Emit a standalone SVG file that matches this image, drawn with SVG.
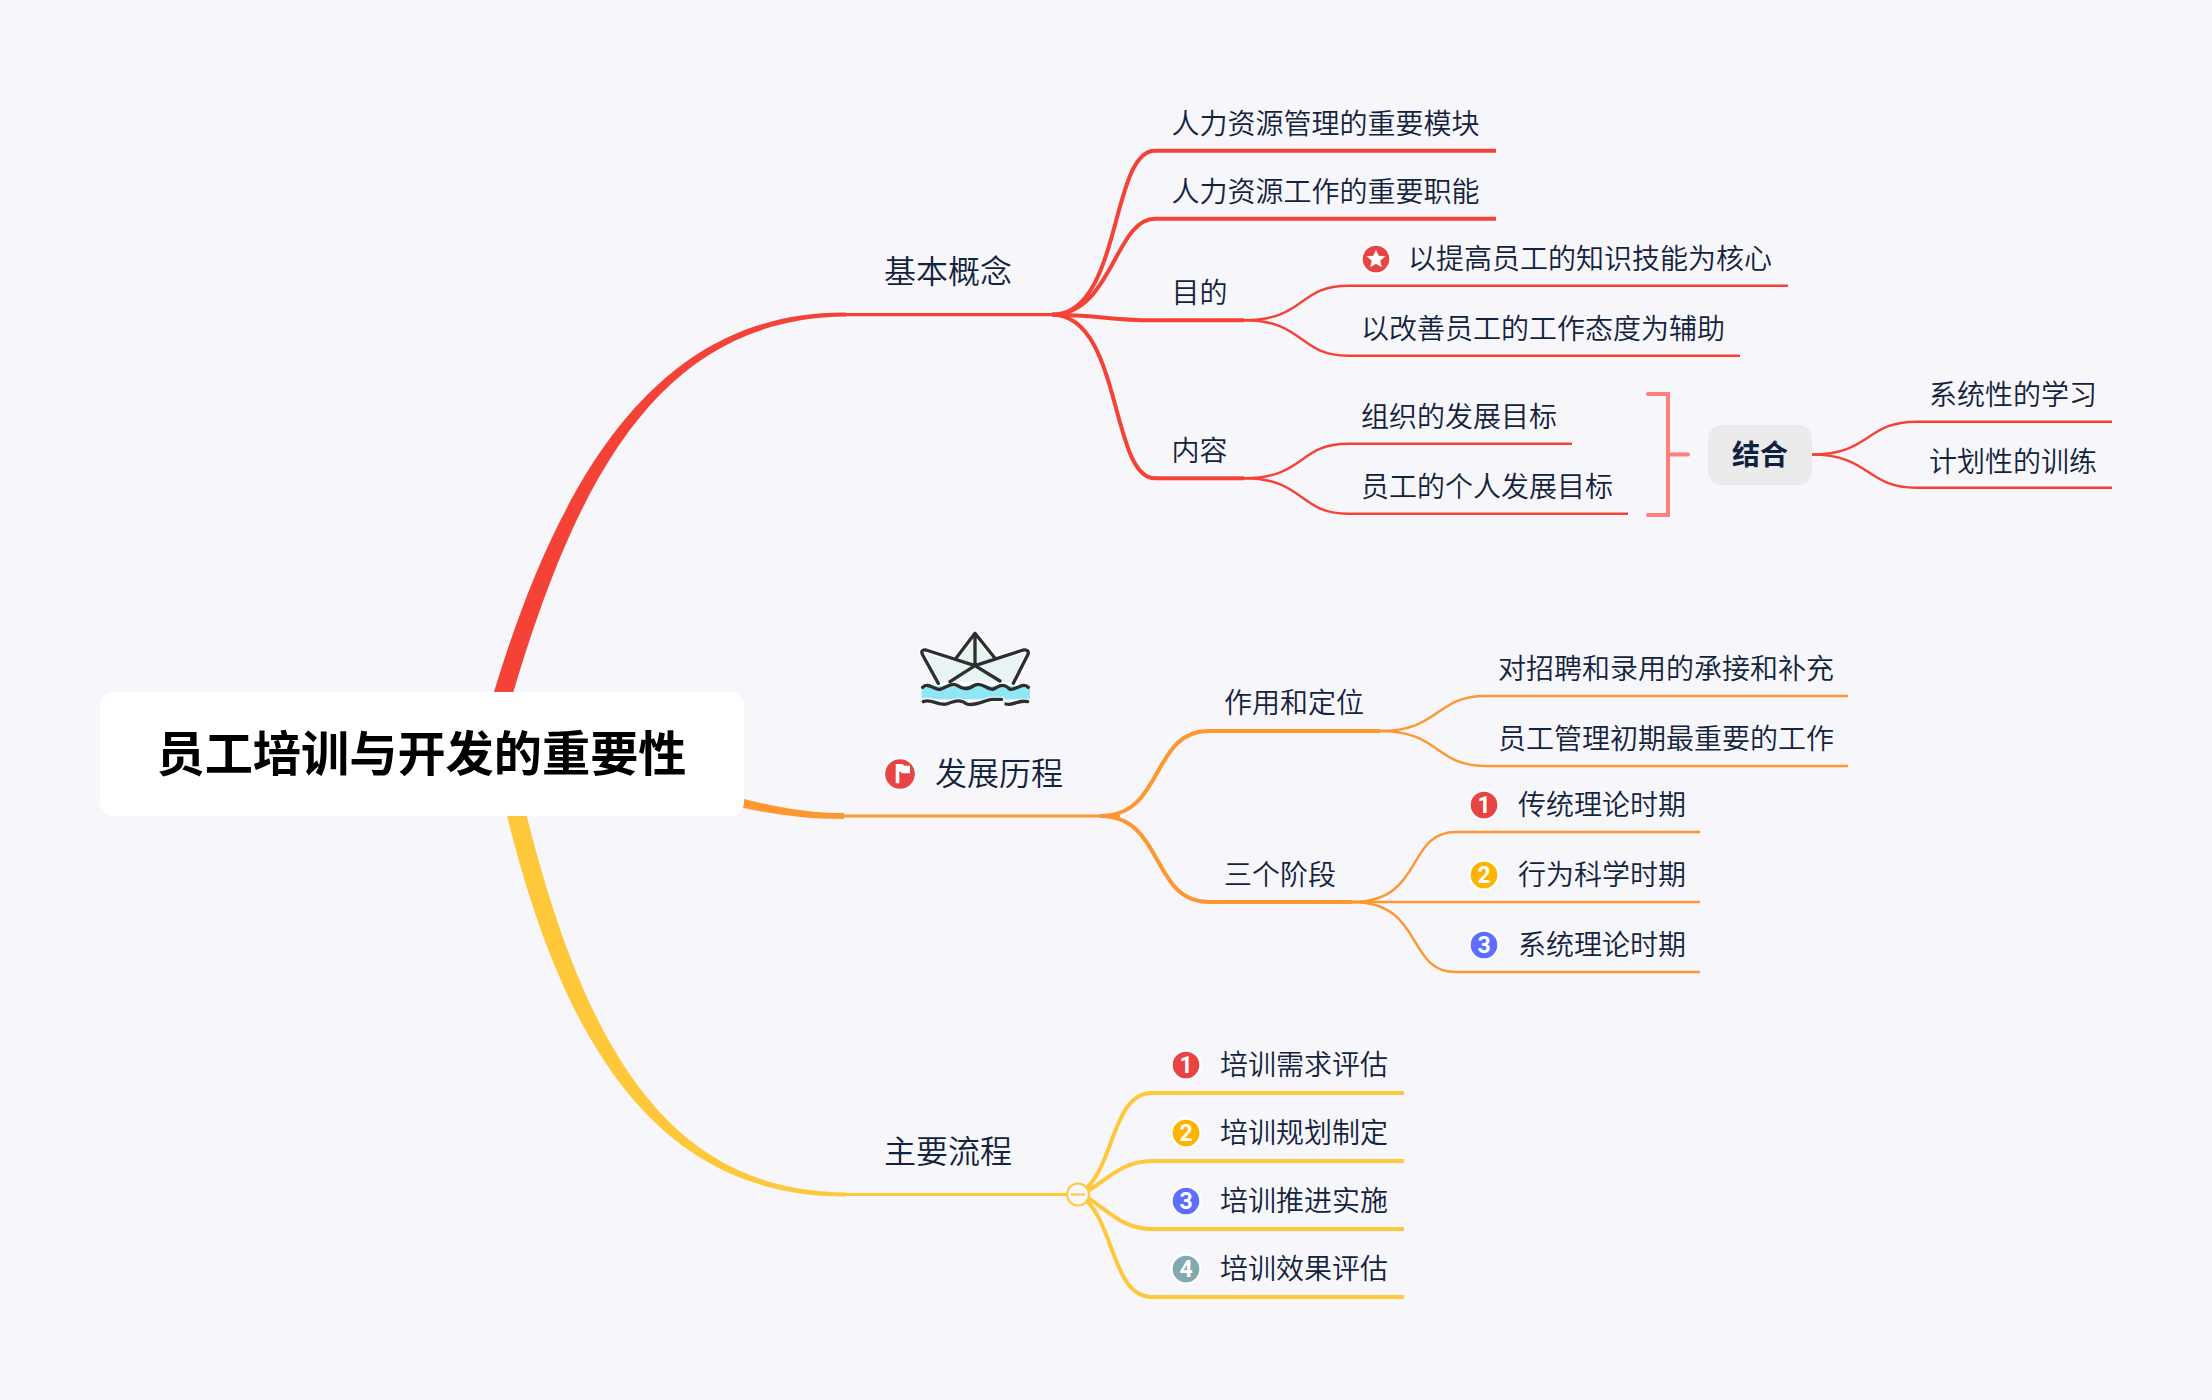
<svg xmlns="http://www.w3.org/2000/svg" width="2212" height="1400" viewBox="0 0 2212 1400">
<style>
text{font-family:"Noto Sans CJK SC","Noto Sans",sans-serif;fill:#14233c;font-weight:350}
.t{font-size:28px}
.m{font-size:32px}
.root{font-size:48.2px;font-weight:700;fill:#000;text-anchor:middle}
.tag{font-size:28px;font-weight:700;fill:#0f2040;text-anchor:middle}
.num{font-family:Roboto,sans-serif;font-size:23px;font-weight:700;fill:#fff;text-anchor:middle}
.l{fill:none;stroke-linecap:butt}
.r{stroke:#f44336}.o{stroke:#ff9730}.y{stroke:#ffc83a}
.w4{stroke-width:4}.w3{stroke-width:3.2}.w2{stroke-width:2.4}
.halo{stroke:#fff;stroke-width:2.4}
</style>
<rect width="2212" height="1400" fill="#f6f6fb"/>
<g id="connectors">
<path d="M481,737C552,478 656,311 846,312.6L846,316.6C656,318.5 570,482 499,743Z" fill="#f44336"/>
<path d="M740,798C780,808 810,813 844,813L844,819C805,819 775,815 735,806Z" fill="#ff9730"/>
<path d="M495,762C551,1031 650,1197.5 846,1196.5L846,1192.5C656,1191.5 573,1027 513,758Z" fill="#ffc83a"/>
<g class="l r">
<path class="w3" d="M844,314.7H1064"/>
<path class="w4" d="M1052,314.7C1122,314.7 1110,150.7 1155,150.7H1496"/>
<path class="w4" d="M1052,314.7C1112,314.7 1115,218.7 1155,218.7H1496"/>
<path class="w4" d="M1052,314.7C1100,314.7 1105,320.3 1155,320.3H1244"/>
<path class="w4" d="M1052,314.7C1122,314.7 1110,478.3 1155,478.3H1244"/>
<path class="w2" d="M1244,320.3C1305,320.3 1298,285.7 1348,285.7H1788"/>
<path class="w2" d="M1244,320.3C1305,320.3 1298,355.7 1348,355.7H1740"/>
<path class="w2" d="M1244,478.3C1305,478.3 1298,443.7 1348,443.7H1572"/>
<path class="w2" d="M1244,478.3C1305,478.3 1298,513.7 1348,513.7H1628"/>
<path class="w2" d="M1812,454.5C1870,454.5 1866,421.7 1916,421.7H2112"/>
<path class="w2" d="M1812,454.5C1870,454.5 1866,487.7 1916,487.7H2112"/>
</g>
<path d="M1648,394H1668V515H1648M1668,454.5H1688" fill="none" stroke="#ff7f7a" stroke-width="4" stroke-linecap="round"/>
<g class="l o">
<path class="w3" d="M844,816H1120"/>
<path class="w4" d="M1100,816C1165,816 1150,731 1209,731H1380"/>
<path class="w4" d="M1100,816C1165,816 1150,902 1209,902H1352"/>
<path class="w2" d="M1380,731C1440,731 1435,696 1485,696H1848"/>
<path class="w2" d="M1380,731C1440,731 1435,766 1485,766H1848"/>
<path class="w2" d="M1352,902C1425,902 1405,832 1456,832H1700"/>
<path class="w2" d="M1352,902H1700"/>
<path class="w2" d="M1352,902C1425,902 1405,972 1456,972H1700"/>
</g>
<g class="l y">
<path class="w3" d="M844,1194.5H1078"/>
<path class="w4" d="M1078,1194.5C1115,1175 1110,1093 1152,1093H1404"/>
<path class="w4" d="M1078,1194.5C1100,1190 1115,1161 1152,1161H1404"/>
<path class="w4" d="M1078,1194.5C1100,1199 1115,1229 1152,1229H1404"/>
<path class="w4" d="M1078,1194.5C1115,1214 1110,1297 1152,1297H1404"/>
</g>
<g id="collapse"><circle cx="1078" cy="1194.5" r="11" fill="#f6f6fb" stroke="#ffc83a" stroke-width="2"/><path d="M1071,1194.5H1085" stroke="#ffc83a" stroke-width="2"/></g>
</g>
<g id="root"><rect x="100" y="692" width="644" height="124" rx="14" fill="#fff"/><text class="root" x="421.5" y="771">员工培训与开发的重要性</text></g>
<g id="n-jbgn"><text class="m" x="884" y="283">基本概念</text></g>
<g id="n-a1"><text class="t" x="1171.5" y="134">人力资源管理的重要模块</text></g>
<g id="n-a2"><text class="t" x="1171.5" y="202">人力资源工作的重要职能</text></g>
<g id="n-a3"><text class="t" x="1171.5" y="303">目的</text></g>
<g id="n-a4"><text class="t" x="1171.5" y="461">内容</text></g>
<g id="n-b1"><circle cx="1376" cy="259" r="14.5" fill="#e94444" class="halo"/><polygon points="1376,249.5 1378.6,255.8 1385.4,256.3 1380.2,260.7 1381.9,267.3 1376,263.7 1370.1,267.3 1371.8,260.7 1366.6,256.3 1373.4,255.8" fill="#fff"/><text class="t" x="1408" y="269">以提高员工的知识技能为核心</text></g>
<g id="n-b2"><text class="t" x="1361" y="339">以改善员工的工作态度为辅助</text></g>
<g id="n-b3"><text class="t" x="1361" y="427">组织的发展目标</text></g>
<g id="n-b4"><text class="t" x="1361" y="497">员工的个人发展目标</text></g>
<g id="n-tag"><rect x="1708" y="425" width="104" height="60" rx="14" fill="#ebebeb"/><text class="tag" x="1760" y="465">结合</text></g>
<g id="n-c1"><text class="t" x="1929" y="405">系统性的学习</text></g>
<g id="n-c2"><text class="t" x="1929" y="472">计划性的训练</text></g>
<g id="n-boat" transform="translate(860 600) scale(.3333)">
<g fill="none" stroke-linecap="round" stroke-linejoin="round">
<path d="M235,255L188,165Q180,148 198,150L285,178L345,100L405,175L490,150Q510,148 503,165L460,255Z" fill="#e8f4f4" stroke="#fff" stroke-width="18"/>
<path d="M235,250L188,165Q180,148 198,150L345,197L490,150Q510,148 503,165L460,250M287,176L345,100L405,175M345,100V197L270,245M345,197L420,243" stroke="#2e2e2e" stroke-width="10"/>
<path d="M185,258H510V298H185Z" fill="#8fe6f5"/>
<path d="M188,262C205,245 225,272 240,268C260,262 275,245 295,258C312,272 330,265 345,255C365,245 380,268 398,268C415,262 425,245 450,268C470,270 490,245 505,262" stroke="#2e2e2e" stroke-width="10"/>
<path d="M185,306C205,290 235,318 260,312C280,305 300,295 320,312C345,320 375,300 395,298L425,298M438,312C460,318 475,298 503,305" stroke="#fff" stroke-width="16"/>
<path d="M190,305C215,295 235,318 260,312C280,305 300,295 320,312C345,320 375,300 395,298L425,298M438,312C460,318 475,298 503,305" stroke="#2e2e2e" stroke-width="10"/>
</g></g>
<g id="n-fz"><circle cx="900" cy="774" r="16" fill="#e94444" class="halo"/><path d="M895.7,764H902.7L904,765.7H910V773.3H901.7L900.7,771.7H899.3V783.3H895.7Z" fill="#fff"/><text class="m" x="935" y="785">发展历程</text></g>
<g id="n-d1"><text class="t" x="1224" y="713">作用和定位</text></g>
<g id="n-d2"><text class="t" x="1224" y="885">三个阶段</text></g>
<g id="n-e1"><text class="t" x="1498" y="679">对招聘和录用的承接和补充</text></g>
<g id="n-e2"><text class="t" x="1498" y="749">员工管理初期最重要的工作</text></g>
<g id="n-f1"><circle cx="1484" cy="805" r="14.5" fill="#e94444" class="halo"/><text class="num" x="1484" y="813">1</text><text class="t" x="1518" y="815">传统理论时期</text></g>
<g id="n-f2"><circle cx="1484" cy="875" r="14.5" fill="#ffb300" class="halo"/><text class="num" x="1484" y="883">2</text><text class="t" x="1518" y="885">行为科学时期</text></g>
<g id="n-f3"><circle cx="1484" cy="945" r="14.5" fill="#5c6eff" class="halo"/><text class="num" x="1484" y="953">3</text><text class="t" x="1518" y="955">系统理论时期</text></g>
<g id="n-zy"><text class="m" x="884" y="1163">主要流程</text></g>
<g id="n-g1"><circle cx="1186" cy="1065" r="14.5" fill="#e94444" class="halo"/><text class="num" x="1186" y="1073">1</text><text class="t" x="1220" y="1075">培训需求评估</text></g>
<g id="n-g2"><circle cx="1186" cy="1133" r="14.5" fill="#ffb300" class="halo"/><text class="num" x="1186" y="1141">2</text><text class="t" x="1220" y="1143">培训规划制定</text></g>
<g id="n-g3"><circle cx="1186" cy="1201" r="14.5" fill="#5c6eff" class="halo"/><text class="num" x="1186" y="1209">3</text><text class="t" x="1220" y="1211">培训推进实施</text></g>
<g id="n-g4"><circle cx="1186" cy="1269" r="14.5" fill="#80aab0" class="halo"/><text class="num" x="1186" y="1277">4</text><text class="t" x="1220" y="1279">培训效果评估</text></g>
</svg>
